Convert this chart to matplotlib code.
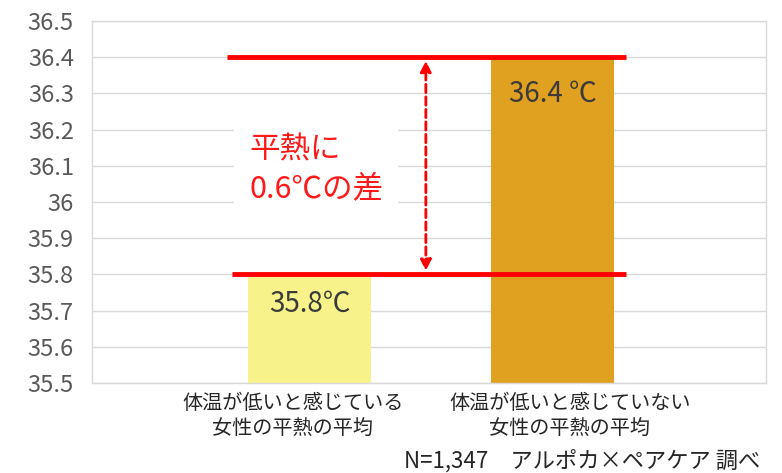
import matplotlib.pyplot as plt
import numpy as np

plt.rcParams['font.family'] = ['Noto Sans CJK JP', 'DejaVu Sans']

categories = ['体温が低いと感じている\n女性の平熱の平均', '体温が低いと感じていない\n女性の平熱の平均']
values = [35.8, 36.4]
value_labels = ['35.8℃', '36.4 ℃']
bar_colors = ['#f7f28a', '#e0a020']
yticks = [35.5, 35.6, 35.7, 35.8, 35.9, 36.0, 36.1, 36.2, 36.3, 36.4, 36.5]
ytick_labels = ['35.5', '35.6', '35.7', '35.8', '35.9', '36', '36.1', '36.2', '36.3', '36.4', '36.5']
base = 35.5
diff_text = '平熱に\n0.6℃の差'
note = 'N=1,347　アルポカ×ペアケア 調べ'

fig = plt.figure(figsize=(7.82, 4.73), dpi=100)
ax = fig.add_axes([92 / 782, 1 - 383 / 473, 674 / 782, 362 / 473])

x = np.arange(len(categories))
ax.bar(x, [v - base for v in values], bottom=base, width=0.506, color=bar_colors, zorder=2)

ax.set_xlim(-0.897, 1.877)
ax.set_ylim(35.5, 36.5)
ax.set_yticks(yticks)
ax.set_yticklabels(ytick_labels, fontsize=17, color='#595959')
ax.set_xticks([])
ax.tick_params(axis='y', length=0, pad=13)
ax.yaxis.grid(True, color='#d9d9d9', linewidth=1, zorder=0)
for s in ax.spines.values():
    s.set_color('#d9d9d9')
    s.set_linewidth(1)

# category labels (slightly spread outwards, as in the source)
for xi, lab, shift in zip(x, categories, [-0.07, 0.07]):
    ax.text(xi + shift, 35.472, lab, ha='center', va='top', fontsize=14.5, color='#262626',
            linespacing=1.25, clip_on=False)

# value labels
ax.text(x[0], 35.72, value_labels[0], ha='center', va='center', fontsize=20, color='#3a3a3a', zorder=4)
ax.text(x[1], 36.3, value_labels[1], ha='center', va='center', fontsize=20, color='#3a3a3a', zorder=4)

# red reference lines
ax.plot([-0.34, 1.30], [values[1], values[1]], color='#ff0000', linewidth=3.5, zorder=5,
        solid_capstyle='butt')
ax.plot([-0.32, 1.30], [values[0], values[0]], color='#ff0000', linewidth=3.5, zorder=5,
        solid_capstyle='butt')

# difference text with white box hiding gridlines
ax.text(-0.25, 36.09, diff_text, ha='left', va='center', fontsize=22, color='#ff1a1a',
        linespacing=1.3, zorder=3,
        bbox=dict(facecolor='white', edgecolor='none', boxstyle='square,pad=0.5'))

# dashed double arrow
ax.annotate('', xy=(0.477, values[1] - 0.01), xytext=(0.477, values[0] + 0.01),
            arrowprops=dict(arrowstyle='<|-|>', color='#ff0000', linestyle=(0, (3, 1.5)),
                            linewidth=2, mutation_scale=16, shrinkA=0, shrinkB=0),
            zorder=6)

fig.text(760 / 782, 1 - 461 / 473, note, ha='right', va='center', fontsize=16, color='#262626')

fig.savefig('out.png', dpi=100)
